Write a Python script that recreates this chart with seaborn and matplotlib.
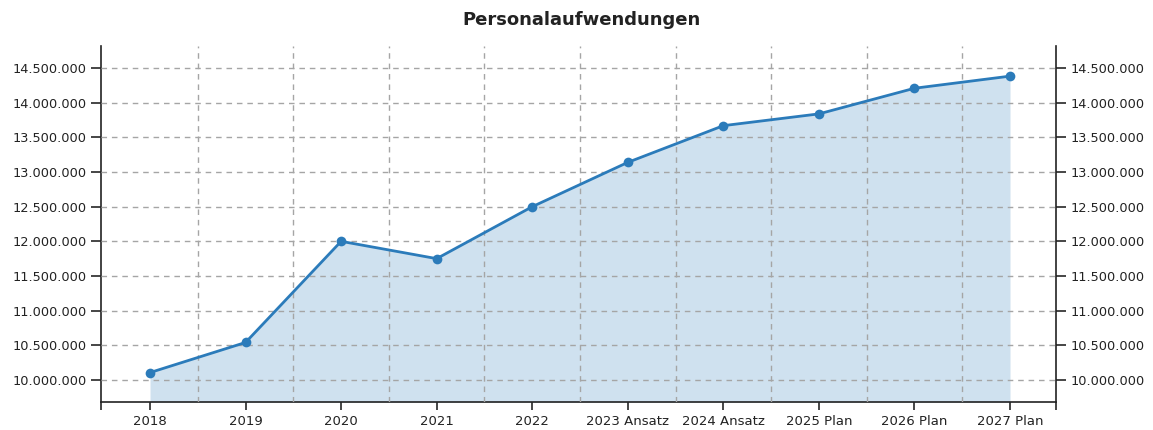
import matplotlib
matplotlib.use("Agg")
import matplotlib.pyplot as plt
import matplotlib.ticker as mticker
import numpy as np
import pandas as pd
import seaborn as sns

categories = ["2018", "2019", "2020", "2021", "2022", "2023 Ansatz",
              "2024 Ansatz", "2025 Plan", "2026 Plan", "2027 Plan"]
values = [10105000, 10540000, 12000000, 11750000, 12500000, 13140000,
          13670000, 13840000, 14210000, 14385000]
y_ticks = [10000000, 10500000, 11000000, 11500000, 12000000,
           12500000, 13000000, 13500000, 14000000, 14500000]

df = pd.DataFrame({"kat": categories, "wert": values})
df["pos"] = np.arange(len(df))

sns.set_style("white")
plt.rcParams["font.family"] = ["DejaVu Sans"]

fig = plt.figure(figsize=(11.53, 4.30), dpi=100)
ax = fig.add_axes([0.0876, 0.0651, 0.828, 0.8279])

ymin, ymax = 9680000, 14820000
xlo, xhi = -0.513, 9.478
ax.fill_between(df["pos"], df["wert"], ymin, color="#cfe1ef", zorder=1, lw=0)
sns.lineplot(data=df, x="pos", y="wert", ax=ax, color="#2b7bba", lw=2,
             marker="o", markersize=7, markeredgewidth=0, zorder=3)

ax.set_xlim(xlo, xhi)
ax.set_ylim(ymin, ymax)

# x-achse: ticks auf kategorien, gitter zwischen kategorien
xmaj = list(df["pos"]) + [xlo, xhi]
ax.set_xticks(xmaj)
ax.set_xticklabels(categories + ["", ""])
ax.set_xticks(np.arange(len(df) - 1) + 0.5, minor=True)
ax.tick_params(axis="x", which="major", length=6, width=1.2, direction="out",
               labelsize=9.5, pad=3, bottom=True, labelcolor="#222222")
ax.tick_params(axis="x", which="minor", length=0)
ax.grid(True, which="minor", axis="x", color="#a5a5a5", ls=(0, (4, 3.5)), lw=1, zorder=2)

fmt = mticker.FuncFormatter(lambda v, p: f"{int(v):,}".replace(",", "."))
ax.set_yticks(y_ticks)
ax.yaxis.set_major_formatter(fmt)
ax.tick_params(axis="y", length=7, width=1.2, direction="out", labelsize=9.3,
               left=True, labelcolor="#222222")
ax.grid(True, which="major", axis="y", color="#a5a5a5", ls=(0, (4, 3.5)), lw=1, zorder=2)
ax.set_axisbelow(False)

ax2 = ax.twinx()
ax2.set_ylim(ymin, ymax)
ax2.set_yticks(y_ticks)
ax2.yaxis.set_major_formatter(fmt)
ax2.tick_params(axis="y", length=7, width=1.2, direction="out", labelsize=9.3,
                right=True, labelcolor="#222222")

for a in (ax, ax2):
    a.set_xlabel("")
    a.set_ylabel("")
    a.spines["top"].set_visible(False)
    for s in ("left", "right", "bottom"):
        a.spines[s].set_color("#222222")
        a.spines[s].set_linewidth(1.2)
ax.spines["right"].set_visible(False)
ax2.spines["left"].set_visible(False)
ax2.spines["bottom"].set_visible(False)

fig.suptitle("Personalaufwendungen", x=0.504, y=0.974, fontsize=13,
             fontweight="bold", color="#222222")

fig.savefig("out.png", dpi=100)
